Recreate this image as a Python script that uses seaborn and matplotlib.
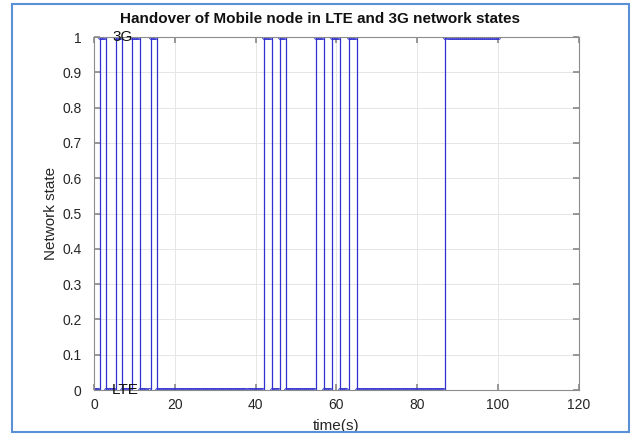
import numpy as np
import pandas as pd
import matplotlib
matplotlib.use("Agg")
import matplotlib.pyplot as plt
import seaborn as sns
from matplotlib.patches import Rectangle

# Network state segments (0 = LTE, 1 = 3G): start time and state
seg_start = [0, 1.5, 3, 5.5, 7, 9.5, 11.5, 14, 15.5, 42, 44, 46, 47.5, 55, 57, 59, 61, 63, 65, 87]
seg_state = [0, 1, 0, 1, 0, 1, 0, 1, 0, 1, 0, 1, 0, 1, 0, 1, 0, 1, 0, 1]
t_end = 100
sample_step = 0.5

x_ticks = [0, 20, 40, 60, 80, 100, 120]
y_ticks = [0, 0.1, 0.2, 0.3, 0.4, 0.5, 0.6, 0.7, 0.8, 0.9, 1]
title = "Handover of Mobile node in LTE and 3G network states"

# sampled signal (markers at each sample)
t = np.arange(0, t_end + sample_step / 2, sample_step)
idx = np.searchsorted(seg_start, t, side="right") - 1
state = np.array(seg_state)[idx]
df = pd.DataFrame({"time": t, "state": state})

sns.set_theme(style="whitegrid")
plt.rcParams["font.family"] = ["Liberation Sans", "DejaVu Sans"]

fig = plt.figure(figsize=(6.41, 4.36), dpi=100)
ax = fig.add_axes([0.1466, 0.1055, 0.7564, 0.8095])

sns.lineplot(data=df, x="time", y="state", ax=ax, color="#3030d0",
             linewidth=0.9, drawstyle="steps-post", marker="o",
             markersize=2.8, markerfacecolor="none", markeredgecolor="#3030d0",
             markeredgewidth=0.7, estimator=None)

ax.set_xlim(0, 120)
ax.set_ylim(0, 1)
ax.set_xticks(x_ticks)
ax.set_xticklabels([str(v) for v in x_ticks])
ax.set_yticks(y_ticks)
ax.set_yticklabels([f"{v:g}" for v in y_ticks])
ax.grid(True, color="#e6e6e6", linewidth=0.7)
ax.set_axisbelow(True)
for s in ax.spines.values():
    s.set_color("#8c8c8c")
    s.set_linewidth(0.8)
ax.tick_params(axis="both", direction="in", length=4, color="#8c8c8c",
               labelsize=10, labelcolor="#262626")
ax.tick_params(axis="x", top=True, bottom=True, pad=6)
ax.tick_params(axis="y", left=True, right=True, pad=9)

ax.set_xlabel("time(s)", fontsize=11, color="#262626", labelpad=5)
ax.set_ylabel("Network state", fontsize=11, color="#262626", labelpad=3)
ax.set_title(title, fontsize=11, fontweight="bold", color="#111111",
             x=0.466, y=1.0, pad=10)

ax.text(4.6, 1, "3G", fontsize=11, va="center", ha="left", color="#111111")
ax.text(4.4, 0, "LTE", fontsize=11, va="center", ha="left", color="#111111")

fig.patches.append(Rectangle((12 / 641, 4 / 436), 617 / 641, 428 / 436,
                             transform=fig.transFigure, fill=False,
                             edgecolor="#5b8fd6", linewidth=1.5))

fig.savefig("out.png", dpi=100, facecolor="white")
